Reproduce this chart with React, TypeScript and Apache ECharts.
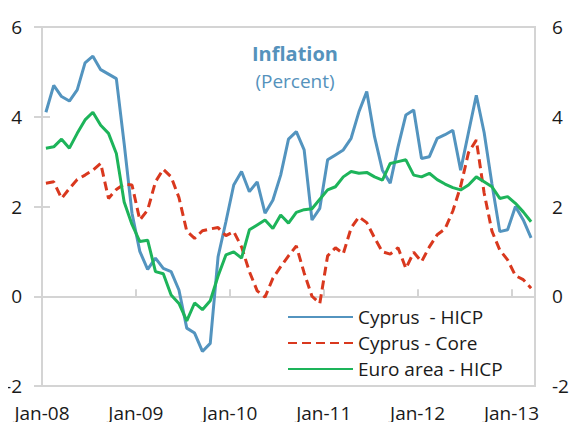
import React, { useEffect, useRef } from "react";
import * as echarts from "echarts";

const tickLabels = ["Jan-08", "Jan-09", "Jan-10", "Jan-11", "Jan-12", "Jan-13"];
const seriesNames = ["Cyprus  - HICP", "Cyprus - Core", "Euro area - HICP"];

// Monthly, Jan-08 .. Mar-13
const cyprusHicp = [
  4.1, 4.7, 4.45, 4.35, 4.6, 5.2, 5.35, 5.05, 4.95, 4.85, 3.4, 1.85,
  1.0, 0.6, 0.85, 0.62, 0.55, 0.14, -0.71, -0.82, -1.23, -1.05, 0.88, 1.66,
  2.48, 2.78, 2.33, 2.55, 1.85, 2.14, 2.7, 3.5, 3.67, 3.26, 1.7, 1.96,
  3.04, 3.15, 3.26, 3.52, 4.11, 4.56, 3.55, 2.81, 2.52, 3.33, 4.04, 4.15,
  3.07, 3.11, 3.52, 3.6, 3.7, 2.81, 3.65, 4.48, 3.65, 2.5, 1.44, 1.48,
  2.0, 1.7, 1.3,
];
const cyprusCore = [
  2.52, 2.55, 2.18, 2.4, 2.6, 2.7, 2.81, 2.96, 2.18, 2.38, 2.5, 2.48,
  1.7, 1.92, 2.55, 2.83, 2.66, 2.2, 1.45, 1.29, 1.46, 1.5, 1.53, 1.35,
  1.44, 1.1, 0.55, 0.12, -0.02, 0.4, 0.66, 0.9, 1.12, 0.52, 0.0, -0.16,
  0.9, 1.08, 0.95, 1.52, 1.77, 1.64, 1.3, 0.99, 0.94, 1.08, 0.62, 0.98,
  0.77, 1.1, 1.37, 1.5, 1.9, 2.45, 3.2, 3.48, 2.3, 1.45, 1.03, 0.81,
  0.46, 0.37, 0.18,
];
const euroHicp = [
  3.3, 3.33, 3.5, 3.3, 3.63, 3.93, 4.1, 3.81, 3.63, 3.18, 2.1, 1.6,
  1.22, 1.25, 0.55, 0.5, 0.03, -0.16, -0.55, -0.15, -0.3, -0.1, 0.45, 0.92,
  0.99, 0.85, 1.48, 1.59, 1.7, 1.51, 1.81, 1.63, 1.87, 1.93, 1.95, 2.16,
  2.37, 2.44, 2.66, 2.78, 2.74, 2.76, 2.66, 2.59, 2.96, 3.0, 3.04, 2.7,
  2.66, 2.74, 2.6, 2.5, 2.42, 2.37, 2.48, 2.66, 2.55, 2.44, 2.18, 2.22,
  2.07, 1.88, 1.66,
];

const FONT = "Open Sans";
const GRAY = "#d4d4d4";
const TEXT = "#1a1a1a";

const toPoints = (arr: number[]) => arr.map((v, i) => [i + 0.5, v]);

export default function App() {
  const ref = useRef<HTMLDivElement>(null);
  useEffect(() => {
    if (!ref.current) return;
    const chart = echarts.init(ref.current, undefined, { renderer: "svg" });
    const nMonths = cyprusHicp.length;
    const yAxisBase = (pos: "left" | "right", margin: number) => ({
      type: "value",
      position: pos,
      min: -2,
      max: 6,
      interval: 2,
      axisLine: { show: false },
      axisTick: { show: true, inside: true, length: 8, lineStyle: { color: GRAY, width: 2 } },
      splitLine: { show: false },
      axisLabel: { margin, fontSize: 19, color: TEXT, fontFamily: FONT },
    });
    chart.setOption({
      animation: false,
      backgroundColor: "#ffffff",
      title: {
        text: "Inflation",
        subtext: "(Percent)",
        left: 290,
        textAlign: "center",
        top: 38,
        itemGap: 8,
        textStyle: { fontSize: 20, fontWeight: "bold", color: "#5592bc", fontFamily: FONT },
        subtextStyle: { fontSize: 19, color: "#5592bc", fontFamily: FONT },
      },
      grid: {
        left: 42,
        right: 42,
        top: 27,
        bottom: 44,
        show: true,
        borderColor: GRAY,
        borderWidth: 2,
        backgroundColor: "transparent",
      },
      legend: {
        data: seriesNames,
        orient: "vertical",
        left: 282,
        top: 302,
        itemWidth: 65,
        itemHeight: 14,
        itemGap: 6,
        itemStyle: { opacity: 0 },
        textStyle: { fontSize: 19, color: TEXT, fontFamily: FONT, lineHeight: 20 },
      },
      xAxis: [
        {
          type: "value",
          min: 0,
          max: nMonths,
          interval: 12,
          position: "bottom",
          axisLine: { show: false, onZero: false },
          axisTick: { show: false },
          splitLine: { show: false },
          axisLabel: {
            margin: 17,
            fontSize: 19,
            color: TEXT,
            fontFamily: FONT,
            showMaxLabel: false,
            formatter: (v: number) => (v % 12 === 0 ? tickLabels[v / 12] ?? "" : ""),
          },
        },
        {
          type: "value",
          min: 0,
          max: nMonths,
          interval: 12,
          position: "bottom",
          axisLine: { show: true, onZero: true, lineStyle: { color: GRAY, width: 2 } },
          axisTick: { show: true, inside: true, length: 7, lineStyle: { color: GRAY, width: 2 } },
          axisLabel: { show: false },
          splitLine: { show: false },
        },
      ],
      yAxis: [yAxisBase("left", 20), yAxisBase("right", 17)],
      series: [
        {
          name: seriesNames[0],
          type: "line",
          data: toPoints(cyprusHicp),
          symbol: "none",
          lineStyle: { color: "#5394bf", width: 3 },
          itemStyle: { color: "#5394bf" },
        },
        {
          name: seriesNames[1],
          type: "line",
          data: toPoints(cyprusCore),
          symbol: "none",
          lineStyle: { color: "#d9381e", width: 3, type: [9, 5] },
          itemStyle: { color: "#d9381e" },
        },
        {
          name: seriesNames[2],
          type: "line",
          data: toPoints(euroHicp),
          symbol: "none",
          lineStyle: { color: "#1db45a", width: 3 },
          itemStyle: { color: "#1db45a" },
        },
      ],
    });
    return () => chart.dispose();
  }, []);
  return <div ref={ref} style={{ width: 577, height: 430, margin: -8 }} />;
}
